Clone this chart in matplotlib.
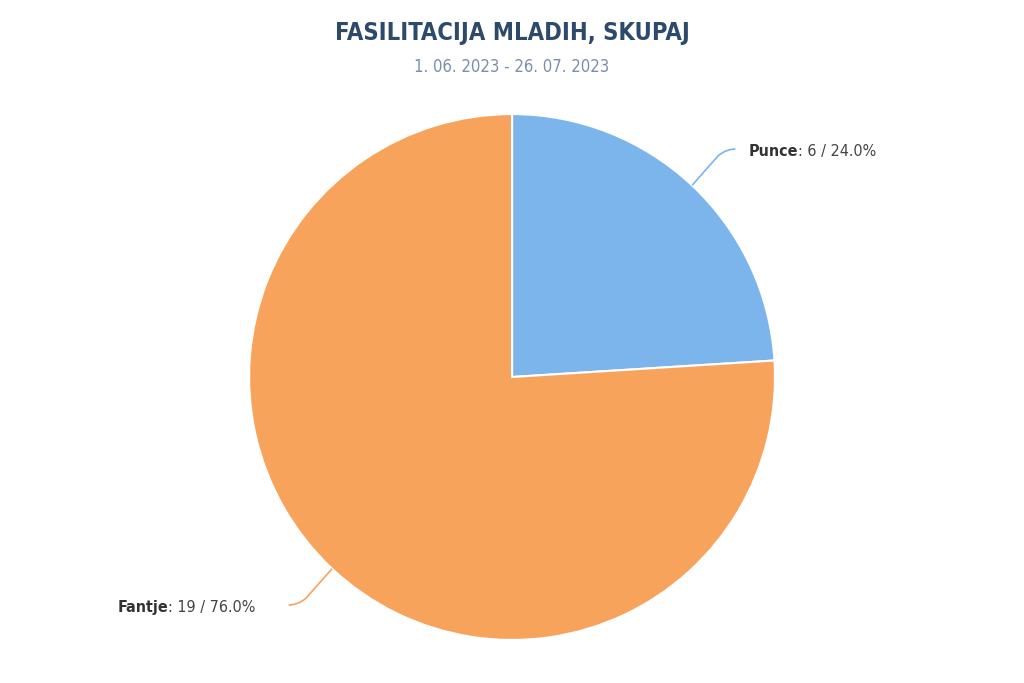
import numpy as np
import matplotlib.pyplot as plt
from matplotlib.path import Path
from matplotlib.patches import PathPatch

labels = ["Punce", "Fantje"]
values = [6, 19]
colors = ["#7cb5ec", "#f7a35c"]
title = "FASILITACIJA MLADIH, SKUPAJ"
subtitle = "1. 06. 2023 - 26. 07. 2023"

plt.rcParams['font.family'] = ['DejaVu Sans']

fig = plt.figure(figsize=(10.24, 6.83), dpi=100)
ax = fig.add_axes([0.5 - 0.2568, 0.448 - 0.385, 0.5137, 0.770])
wedges, _ = ax.pie(values, colors=colors, startangle=90, counterclock=False,
                   wedgeprops=dict(edgecolor="white", linewidth=1.5), radius=1.0)
ax.set_xlim(-1, 1)
ax.set_ylim(-1, 1)
ax.set_aspect("equal")
ax.axis("off")

total = sum(values)
for w, lab, v, c in zip(wedges, labels, values, colors):
    mid = np.deg2rad((w.theta1 + w.theta2) / 2)
    x0, y0 = np.cos(mid), np.sin(mid)
    sx = np.sign(x0)
    # connector: edge -> knee -> horizontal end
    kx, ky = x0 + sx * 0.12, y0 + 0.138 * np.sign(y0)
    ex = kx + sx * 0.045
    verts = [(x0, y0), (kx - sx * 0.02, ky - 0.025 * np.sign(y0)), (kx + sx * 0.01, ky), (ex, ky)]
    path = Path(verts, [Path.MOVETO, Path.LINETO, Path.CURVE3, Path.CURVE3])
    ax.add_patch(PathPatch(path, fc="none", ec=c, lw=1.2, clip_on=False))
    rest = ": %d / %.1f%%" % (v, 100.0 * v / total)
    ty = ky - 0.008
    if sx > 0:
        t = ax.text(ex + 0.05, ty, lab, ha="left", va="center", fontsize=11.5,
                    fontweight="bold", color="#333333", fontstretch="condensed")
        ax.annotate(rest, xycoords=t, xy=(1, 0.5), va="center", ha="left",
                    fontsize=11.5, color="#444444", fontstretch="condensed")
    else:
        t = ax.text(ex - 0.125, ty, rest, ha="right", va="center", fontsize=11.5,
                    color="#444444", fontstretch="condensed")
        ax.annotate(lab, xycoords=t, xy=(0, 0.5), va="center", ha="right",
                    fontsize=11.5, fontweight="bold", color="#333333",
                    fontstretch="condensed")

fig.text(0.5, 0.952, title, ha="center", va="center", fontsize=17,
         fontweight="bold", color="#2d4a6b", fontstretch="condensed")
fig.text(0.5, 0.902, subtitle, ha="center", va="center", fontsize=12,
         color="#7a8fab", fontstretch="condensed")

fig.savefig("out.png", dpi=100)
